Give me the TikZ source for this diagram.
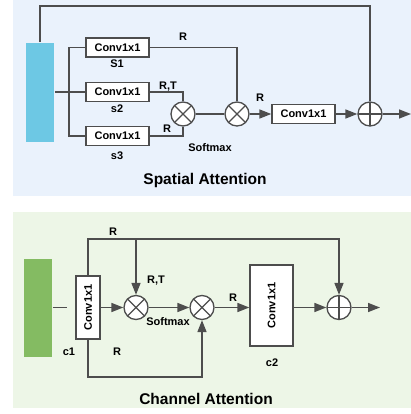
\documentclass[tikz,border=0pt]{standalone}
\usepackage{fontspec}
\setmainfont{Liberation Sans}
\usetikzlibrary{arrows.meta}

\definecolor{wire}{HTML}{4D4D4D}
\definecolor{spbg}{HTML}{EAF2FC}
\definecolor{chbg}{HTML}{EDF6E7}
\definecolor{spbar}{HTML}{6DC8E4}
\definecolor{chbar}{HTML}{84BB62}

\tikzset{
  conv/.style={draw=wire, fill=white, line width=1.3pt, inner sep=0pt, text=black,
    minimum width=63pt, minimum height=19pt, font=\fontsize{11}{13}\selectfont\bfseries},
  feat/.style={inner sep=0pt, minimum width=28pt},
  mult/.style={circle, draw=wire, fill=white, line width=1.3pt, minimum size=24pt, inner sep=0pt,
    path picture={\draw[wire, line width=1.3pt]
      (path picture bounding box.north west) -- (path picture bounding box.south east)
      (path picture bounding box.south west) -- (path picture bounding box.north east);}},
  plus/.style={circle, draw=wire, fill=white, line width=1.3pt, minimum size=24pt, inner sep=0pt,
    path picture={\draw[wire, line width=1.3pt]
      (path picture bounding box.north) -- (path picture bounding box.south)
      (path picture bounding box.west) -- (path picture bounding box.east);}},
  lbl/.style={inner sep=0pt, text=black, font=\fontsize{11}{13}\selectfont\bfseries},
  ttl/.style={inner sep=0pt, text=black, font=\fontsize{15.5}{18}\selectfont\bfseries},
  arr/.style={-{Triangle[length=12pt,width=9pt]}}
}

\begin{document}
\begin{tikzpicture}[x=1pt, y=-1pt, color=wire, line width=1.5pt]
  \useasboundingbox (0,0) rectangle (411,414);
  \fill[spbg] (13,0) rectangle (411,196);
  \fill[chbg] (13,212) rectangle (411,408);

  % spatial branch
  \node[feat, fill=spbar, minimum height=99pt] (xs) at (40,92.5) {};
  \node[conv] (s1) at (117.5,47.5) {Conv1x1};
  \node[conv] (s2) at (117.5,92) {Conv1x1};
  \node[conv] (s3) at (117.5,136) {Conv1x1};
  \node[mult] (m1) at (183,114) {};
  \node[mult] (m2) at (237,114) {};
  \node[conv] (cs) at (303.5,114) {Conv1x1};
  \node[plus] (ps) at (370,114) {};
  \coordinate (split) at (69,92);
  \coordinate (tops) at (40,6);
  \coordinate (outs) at (411,114);

  \draw (xs.east |- split) -- (split);
  \draw (s1.west) -| (split) |- (s3.west);
  \draw (split) -- (s2.west);
  \draw (s1.east) -| (m2.north);
  \draw (s2.east) -| (m1.north);
  \draw (s3.east) -| (m1.south);
  \draw (m1) -- (m2);
  \draw[arr] (m2) -- (cs);
  \draw[arr] (cs) -- (ps);
  \draw[arr] (ps) -- (outs);
  \draw (xs.north) -- (tops) -| (ps.north);

  \node[lbl] at (183,37) {R};
  \node[lbl] at (168,87) {R,T};
  \node[lbl] at (167,129) {R};
  \node[lbl] at (210,148) {Softmax};
  \node[lbl] at (260,98) {R};
  \node[lbl] at (117,64) {S1};
  \node[lbl] at (117,109) {s2};
  \node[lbl] at (117,156) {s3};
  \node[ttl] at (205,180) {Spatial Attention};

  % channel branch
  \node[feat, fill=chbar, minimum height=98pt] (xc) at (38,308) {};
  \node[conv, minimum width=24pt, minimum height=63pt] (c1) at (88,307.5) {\rotatebox{90}{Conv1x1}};
  \node[mult] (m3) at (136,307.5) {};
  \node[mult] (m4) at (202,307.5) {};
  \node[conv, minimum width=43pt, minimum height=81pt] (c2) at (271.5,305.5) {\rotatebox{90}{Conv1x1}};
  \node[plus] (pc) at (339,307.5) {};
  \coordinate (inc) at (67,307.5);
  \coordinate (topc) at (88,239);
  \coordinate (botc) at (88,377);
  \coordinate (outc) at (380,307.5);

  \draw (xc.east |- inc) -- (inc);
  \draw[arr] (c1.east) -- (m3);
  \draw[arr] (m3) -- (m4);
  \draw[arr] (m4) -- (c2.west |- m4);
  \draw[arr] (c2.east |- pc) -- (pc);
  \draw[arr] (pc) -- (outc);
  \draw[arr] (c1.north) -- (topc) -| (pc.north);
  \draw[arr] (m3 |- topc) -- (m3.north);
  \draw[arr] (c1.south) -- (botc) -| (m4.south);

  \node[lbl] at (113,232) {R};
  \node[lbl] at (156,281) {R,T};
  \node[lbl] at (168,322) {Softmax};
  \node[lbl] at (117,352) {R};
  \node[lbl] at (69,352) {c1};
  \node[lbl] at (233,298) {R};
  \node[lbl] at (272,363) {c2};
  \node[ttl] at (206,399) {Channel Attention};
\end{tikzpicture}
\end{document}
